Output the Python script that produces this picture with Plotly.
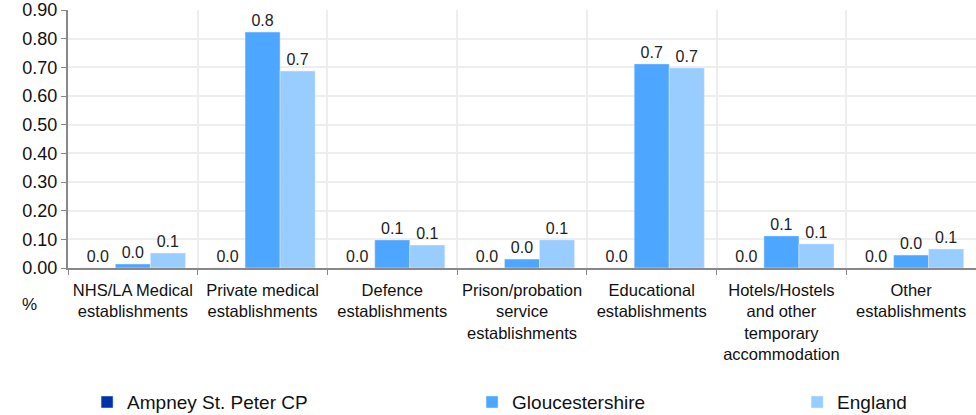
import plotly.graph_objects as go

categories = [
    "NHS/LA Medical<br>establishments",
    "Private medical<br>establishments",
    "Defence<br>establishments",
    "Prison/probation<br>service<br>establishments",
    "Educational<br>establishments",
    "Hotels/Hostels<br>and other<br>temporary<br>accommodation",
    "Other<br>establishments",
]
ampney = [0.0, 0.0, 0.0, 0.0, 0.0, 0.0, 0.0]
gloucestershire = [0.014, 0.823, 0.098, 0.031, 0.712, 0.112, 0.045]
england = [0.052, 0.687, 0.080, 0.098, 0.698, 0.084, 0.066]

series_names = ["Ampney St. Peter CP", "Gloucestershire", "England"]
series_values = [ampney, gloucestershire, england]
colours = ["#0033aa", "#4da6ff", "#99ccff"]
legend_ids = ["legend", "legend2", "legend3"]
legend_x = [0.021, 0.445, 0.803]

fig = go.Figure()
for name, vals, col, lg in zip(series_names, series_values, colours, legend_ids):
    fig.add_trace(go.Bar(
        x=categories, y=vals, name=name, marker_color=col,
        text=["%.1f" % v for v in vals], textposition="outside",
        textfont=dict(size=16, color="#222"), cliponaxis=False,
        legend=lg,
    ))

font = "Liberation Sans, Arial, sans-serif"
legends = {}
for lg, lx in zip(legend_ids, legend_x):
    legends[lg] = dict(x=lx, y=-0.52, xanchor="left", yanchor="middle",
                       orientation="h", font=dict(size=19, color="#111"),
                       bgcolor="rgba(0,0,0,0)", itemwidth=30)

fig.update_layout(
    width=976, height=415,
    margin=dict(l=68, r=0, t=10, b=147, autoexpand=False),
    plot_bgcolor="white", paper_bgcolor="white",
    font=dict(family=font, size=17, color="#111"),
    barmode="group", bargap=0.19, bargroupgap=0,
    showlegend=True,
    **legends,
)
fig.update_xaxes(
    showline=True, linecolor="#888", linewidth=2,
    ticks="outside", tickson="boundaries", ticklen=5, tickcolor="#888",
    showgrid=True, gridcolor="#eeeeee", gridwidth=2,
    tickangle=0, ticklabelstandoff=6,
    tickfont=dict(size=16.5, color="#111"),
)
fig.update_yaxes(
    range=[0, 0.9], dtick=0.1, tickformat=".2f",
    showline=True, linecolor="#888", linewidth=2,
    ticks="outside", ticklen=5, tickcolor="#888",
    showgrid=True, gridcolor="#eeeeee", gridwidth=2,
    zeroline=False, tickfont=dict(size=18, color="#111"),
)
fig.add_annotation(text="%", xref="paper", yref="paper", x=-0.042, y=-0.143,
                   xanchor="center", yanchor="middle",
                   showarrow=False, font=dict(size=17, color="#111"))

# page body has an 8px default margin; drop it so the figure sits at 0,0
fig.write_html("out.html", config={"displayModeBar": False},
               post_script="document.body.style.margin='0';")
